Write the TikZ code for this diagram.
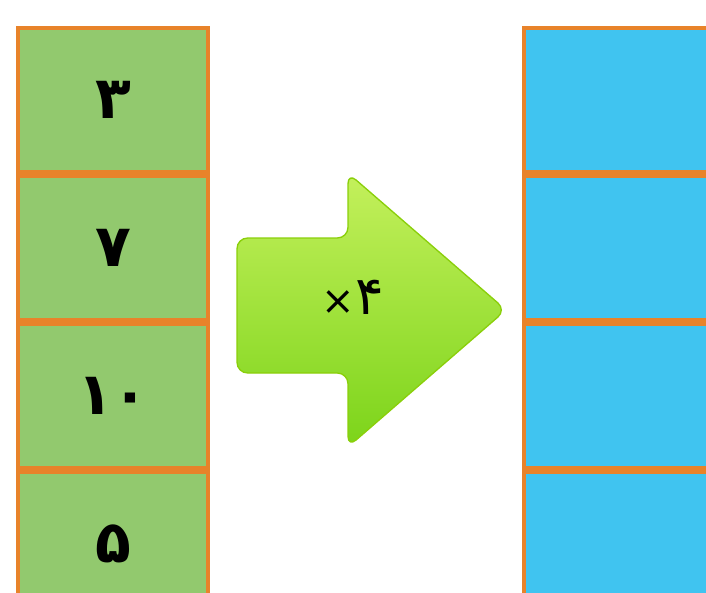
\documentclass[tikz,border=0pt]{standalone}
\usepackage{fontspec}
\newfontfamily\digitfont{DejaVu Sans}
\usetikzlibrary{positioning}
\definecolor{cellgreen}{HTML}{92C96E}
\definecolor{cellblue}{HTML}{40C4F0}
\definecolor{cellline}{HTML}{E8832A}
\definecolor{arrowlight}{HTML}{C4F05C}
\definecolor{arrowdark}{HTML}{7CD41A}
\definecolor{arrowedge}{HTML}{8ACF0A}
\begin{document}
\begin{tikzpicture}[
  x=0.75pt, y=-0.75pt,
  font=\digitfont\bfseries\fontsize{44}{48}\selectfont,
  %% Box styles
  incell/.style  = {draw=cellline, line width=3pt, fill=cellgreen,
                    minimum width=190*0.75pt, minimum height=144*0.75pt,
                    inner sep=0pt, anchor=north west},
  outcell/.style = {draw=cellline, line width=3pt, fill=cellblue,
                    minimum width=200*0.75pt, minimum height=144*0.75pt,
                    inner sep=0pt, anchor=north west},
  bigarrow/.style = {draw=arrowedge, line width=1pt, rounded corners=8pt,
                     shading angle=-60, top color=arrowlight, bottom color=arrowdark},
]
\useasboundingbox (0,0) rectangle (706,592);
\clip (0,0) rectangle (706,592);

%% ── Left column: given numbers ─────────────────────────────────
\node[incell] (in1) at (16,26) {۳};
\node[incell, below=0pt of in1] (in2) {۷};
\node[incell, below=0pt of in2] (in3) {۱۰};
\node[incell, below=0pt of in3] (in4) {۵};

%% ── Right column: empty answers ────────────────────────────────
\node[outcell] (out1) at (522,26) {};
\node[outcell, below=0pt of out1] (out2) {};
\node[outcell, below=0pt of out2] (out3) {};
\node[outcell, below=0pt of out3] (out4) {};

%% ── Arrow ──────────────────────────────────────────────────────
\draw[bigarrow] (237,238) -- (348,238) -- (348,173) -- (506,310)
  -- (348,447) -- (348,373) -- (237,373) -- cycle;
\node[font=\digitfont\fontsize{40}{44}\selectfont] (times) at (353,297)
  {{\fontsize{30}{32}\selectfont ×}۴};

\end{tikzpicture}
\end{document}
